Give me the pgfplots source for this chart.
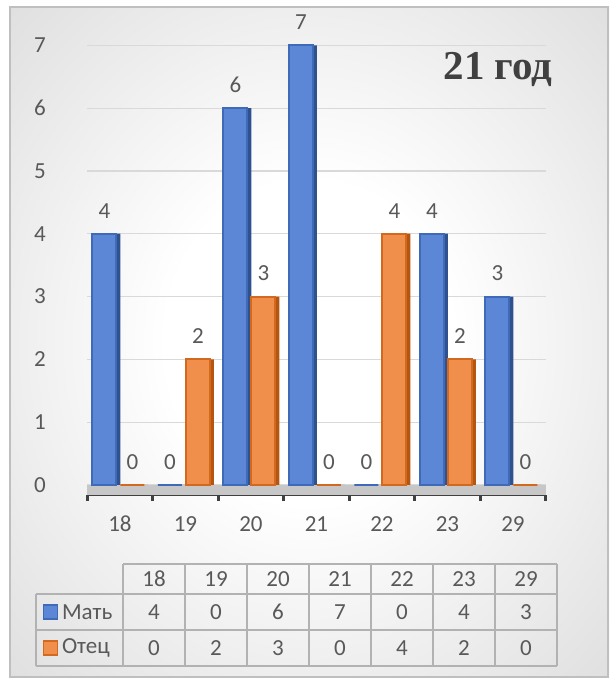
\documentclass[border=0pt]{standalone}
\usepackage{fontspec}
\setmainfont{Carlito}
\newfontfamily\titlefont{Liberation Serif}
\usepackage{pgfplots}
\usepackage{pgfplotstable}
\pgfplotsset{compat=1.18}

\definecolor{txt}{HTML}{595959}
\definecolor{blueF}{HTML}{5B87D6}
\definecolor{blueE}{HTML}{3F6AB8}
\definecolor{blueS}{HTML}{2F528F}
\definecolor{orF}{HTML}{F08F4C}
\definecolor{orE}{HTML}{D2691E}
\definecolor{orS}{HTML}{B4560F}

\pgfdeclareradialshading{bgshade}{\pgfpoint{0bp}{0bp}}{color(0bp)=(white); color(12bp)=(white); color(50bp)=(black!20); color(80bp)=(black!24)}

% age, mother, father
\pgfplotstableread{
age m f
18 4 0
19 0 2
20 6 3
21 7 0
22 0 4
23 4 2
29 3 0
}\data

\begin{document}
\fontsize{11.5}{13}\selectfont
\begin{tikzpicture}
\fill[white] (0,0) rectangle (304.5pt,339pt);
\shade[shading=bgshade] (5pt,0) rectangle (304.5pt,335.5pt);
\draw[black!25, line width=0.8pt] (5pt,0.4pt) rectangle (304.1pt,335.5pt);

\begin{axis}[
  at={(43.6pt,91.5pt)}, anchor=south west,
  scale only axis, width=229.25pt, height=237.4pt,
  xmin=-0.5, xmax=6.5, ymin=-0.16, ymax=7.4,
  axis x line*=bottom, axis y line*=left,
  y axis line style={draw=none},
  x axis line style={line width=1.3pt, draw=black!75},
  xtick={0,...,6}, xticklabels from table={\data}{age},
  ytick={0,...,7},
  major tick length=0pt,
  minor xtick={-0.5,0.5,...,6.5}, minor tick length=3pt, tick align=outside,
  minor tick style={line width=1.3pt, draw=black!75},
  ymajorgrids, grid style={draw=black!15, line width=0.6pt},
  ticklabel style={text=txt},
  xticklabel style={anchor=center, yshift=-14.5pt},
  yticklabel style={anchor=center, xshift=-23.6pt},
  /pgf/number format/assume math mode=true,
  every node near coord/.append style={text=txt, yshift=3.5pt},
  clip=false,
]
\fill[black!22] (axis cs:-0.5,-0.16) rectangle (axis cs:6.5,0);

\addplot[ybar, bar width=2pt, bar shift=-0.75pt, fill=blueS, draw=none]
  table[x expr=\coordindex, y=m]{\data};
\addplot[ybar, bar width=2pt, bar shift=13.25pt, fill=orS, draw=none]
  table[x expr=\coordindex, y=f]{\data};
\addplot[ybar, bar width=12pt, bar shift=-7.75pt, fill=blueF, draw=blueE,
  line width=1pt, nodes near coords,
  every node near coord/.append style={xshift=-7.75pt}]
  table[x expr=\coordindex, y=m]{\data};
\addplot[ybar, bar width=12pt, bar shift=6.25pt, fill=orF, draw=orE,
  line width=1pt, nodes near coords,
  every node near coord/.append style={xshift=6.25pt}]
  table[x expr=\coordindex, y=f]{\data};
\end{axis}

\node[font=\titlefont\bfseries\fontsize{20.5}{24}\selectfont, text=black!75]
  at (249pt,304pt) {21 год};

% data table under the chart
\begin{scope}[black!30, line width=0.8pt]
  \draw (61.5pt,57pt) -- (278.5pt,57pt);
  \draw (18pt,42pt) -- (278.5pt,42pt);
  \draw (18pt,24pt) -- (278.5pt,24pt);
  \draw (18pt,6pt) -- (278.5pt,6pt);
  \draw (18pt,42pt) -- (18pt,6pt);
  \foreach \k in {0,...,7}
    \draw ({61.5pt+31pt*\k},57pt) -- ({61.5pt+31pt*\k},6pt);
\end{scope}

\foreach \i in {0,...,6}{
  \pgfplotstablegetelem{\i}{age}\of\data
  \node[text=txt] at ({77pt+31pt*\i},49.5pt) {\pgfplotsretval};
  \pgfplotstablegetelem{\i}{m}\of\data
  \node[text=txt] at ({77pt+31pt*\i},33pt) {\pgfplotsretval};
  \pgfplotstablegetelem{\i}{f}\of\data
  \node[text=txt] at ({77pt+31pt*\i},15pt) {\pgfplotsretval};
}

\filldraw[fill=blueF, draw=blueE, line width=0.6pt] (21.75pt,29.5pt) rectangle ++(7pt,7pt);
\node[anchor=west, text=txt, inner sep=0pt] at (30.8pt,33pt) {Мать};
\filldraw[fill=orF, draw=orE, line width=0.6pt] (21.75pt,11.5pt) rectangle ++(7pt,7pt);
\node[anchor=west, text=txt, inner sep=0pt] at (30.8pt,15pt) {Отец};
\end{tikzpicture}
\end{document}
